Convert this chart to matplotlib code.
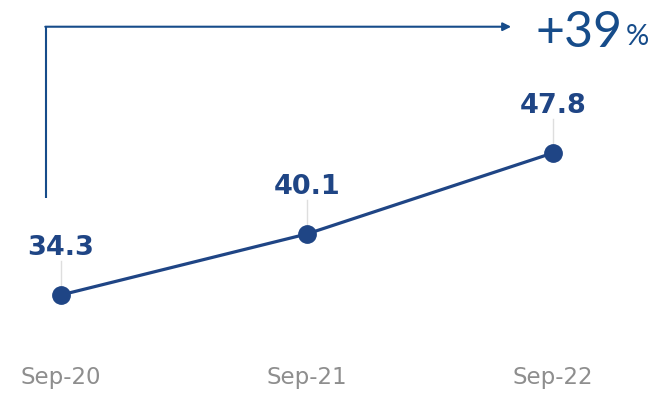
import matplotlib.pyplot as plt

periods = ['Sep-20', 'Sep-21', 'Sep-22']
values = [34.3, 40.1, 47.8]
growth = '+39'

blue = '#1f4585'
arrow_blue = '#164c8a'
grey = '#8e8e8e'

fig = plt.figure(figsize=(6.57, 3.97), dpi=100)
ax = fig.add_axes([0, 0, 1, 1])
ax.set_xlim(-0.248, 2.423)
ax.set_ylim(24.6, 62.34)
ax.axis('off')

x = list(range(len(values)))
ax.plot(x, values, color=blue, lw=2.3, marker='o', ms=12.5, zorder=3)

for xi, v, p in zip(x, values, periods):
    # faint leader from label to point
    ax.plot([xi, xi], [v + 0.5, v + 3.2], color='#dedede', lw=1, zorder=1)
    ax.text(xi, v + 4.5, f'{v:.1f}', ha='center', va='center',
            fontsize=19.5, fontweight='bold', color=blue)
    ax.text(xi, 26.5, p, ha='center', va='center', fontsize=16.5, color=grey)

# growth bracket
x0, x1 = -0.061, 1.83
y0, y1 = 43.5, 59.8
ax.plot([x0, x0], [y0, y1], color=arrow_blue, lw=1.5, solid_capstyle='butt')
ax.annotate('', xy=(x1, y1), xytext=(x0 - 0.003, y1),
            arrowprops=dict(arrowstyle='-|>', color=arrow_blue, lw=1.5,
                            mutation_scale=12, shrinkA=0, shrinkB=0))
t = ax.text(1.93, y1 - 0.6, growth, ha='left', va='center', fontsize=36,
            family='Lato', color=arrow_blue)
ax.annotate('%', xycoords=t, xy=(1, 0), va='bottom', ha='left',
            xytext=(2, 4), textcoords='offset points',
            fontsize=21, family='Lato', color=arrow_blue)

fig.savefig('out.png', dpi=100)
